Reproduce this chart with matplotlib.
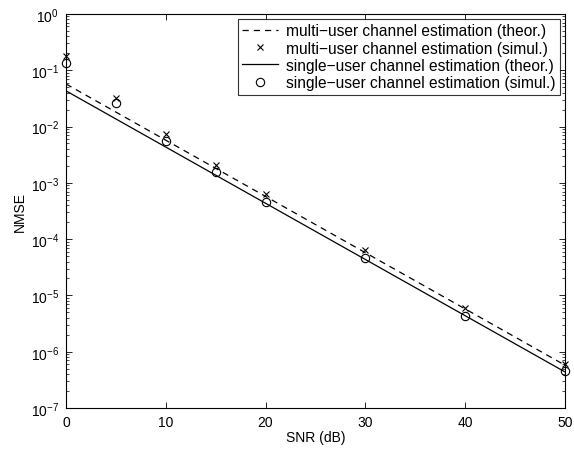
import matplotlib
matplotlib.use("Agg")
import matplotlib.pyplot as plt
from matplotlib.ticker import LogLocator, FixedLocator, NullLocator, NullFormatter, LogFormatterSciNotation

plt.rcParams['font.family'] = ['Liberation Sans', 'DejaVu Sans']
plt.rcParams['mathtext.fontset'] = 'custom'
plt.rcParams['mathtext.rm'] = 'Liberation Sans'
plt.rcParams['mathtext.it'] = 'Liberation Sans:italic'
plt.rcParams['mathtext.bf'] = 'Liberation Sans:bold'

# Data
snr_theor = [0, 50]
multi_theor = [5.7e-2, 5.8e-7]
single_theor = [4.3e-2, 4.4e-7]

snr_sim = [0, 5, 10, 15, 20, 30, 40, 50]
multi_sim = [1.8e-1, 3.2e-2, 7.3e-3, 2.1e-3, 6.3e-4, 6.3e-5, 6.0e-6, 6.0e-7]
single_sim = [1.35e-1, 2.65e-2, 5.5e-3, 1.55e-3, 4.65e-4, 4.6e-5, 4.4e-6, 4.5e-7]

x_ticks = [0, 10, 20, 30, 40, 50]
y_ticks = [1e-7, 1e-6, 1e-5, 1e-4, 1e-3, 1e-2, 1e-1, 1e0]

labels = ["multi\u2212user channel estimation (theor.)",
          "multi\u2212user channel estimation (simul.)",
          "single\u2212user channel estimation (theor.)",
          "single\u2212user channel estimation (simul.)"]

fig = plt.figure(figsize=(5.74, 4.52), dpi=100)
ax = fig.add_axes([0.115, 0.095, 0.869, 0.872])

ax.semilogy(snr_theor, multi_theor, 'k--', lw=0.9, dashes=(5, 4), label=labels[0])
ax.semilogy(snr_sim, multi_sim, 'kx', ms=4.5, mew=0.8, label=labels[1], clip_on=False)
ax.semilogy(snr_theor, single_theor, 'k-', lw=0.9, label=labels[2])
ax.semilogy(snr_sim, single_sim, 'ko', ms=6, mfc='none', mew=0.8, label=labels[3], clip_on=False)

ax.set_xlim(0, 50)
ax.set_ylim(1e-7, 1e0)
ax.xaxis.set_major_locator(FixedLocator(x_ticks))
ax.xaxis.set_minor_locator(NullLocator())
ax.yaxis.set_major_locator(FixedLocator(y_ticks))
ax.yaxis.set_major_formatter(LogFormatterSciNotation())
ax.yaxis.set_minor_locator(LogLocator(base=10, subs=range(2, 10), numticks=20))
ax.yaxis.set_minor_formatter(NullFormatter())

ax.tick_params(which='both', direction='in', top=True, right=True, labelsize=10)
ax.tick_params(which='major', length=4, width=0.6, pad=5)
ax.tick_params(which='minor', length=2.2, width=0.5)
for s in ax.spines.values():
    s.set_linewidth(0.8)

ax.set_xlabel("SNR (dB)", fontsize=10, labelpad=1)
ax.set_ylabel("NMSE", fontsize=10, labelpad=3)

leg = ax.legend(loc='upper right', fontsize=11.2, frameon=True, fancybox=False,
                edgecolor='black', handlelength=2.3, handletextpad=0.5,
                borderpad=0.3, labelspacing=0.15, borderaxespad=0.3)
leg.get_frame().set_linewidth(0.8)

fig.savefig("out.png", dpi=100)
